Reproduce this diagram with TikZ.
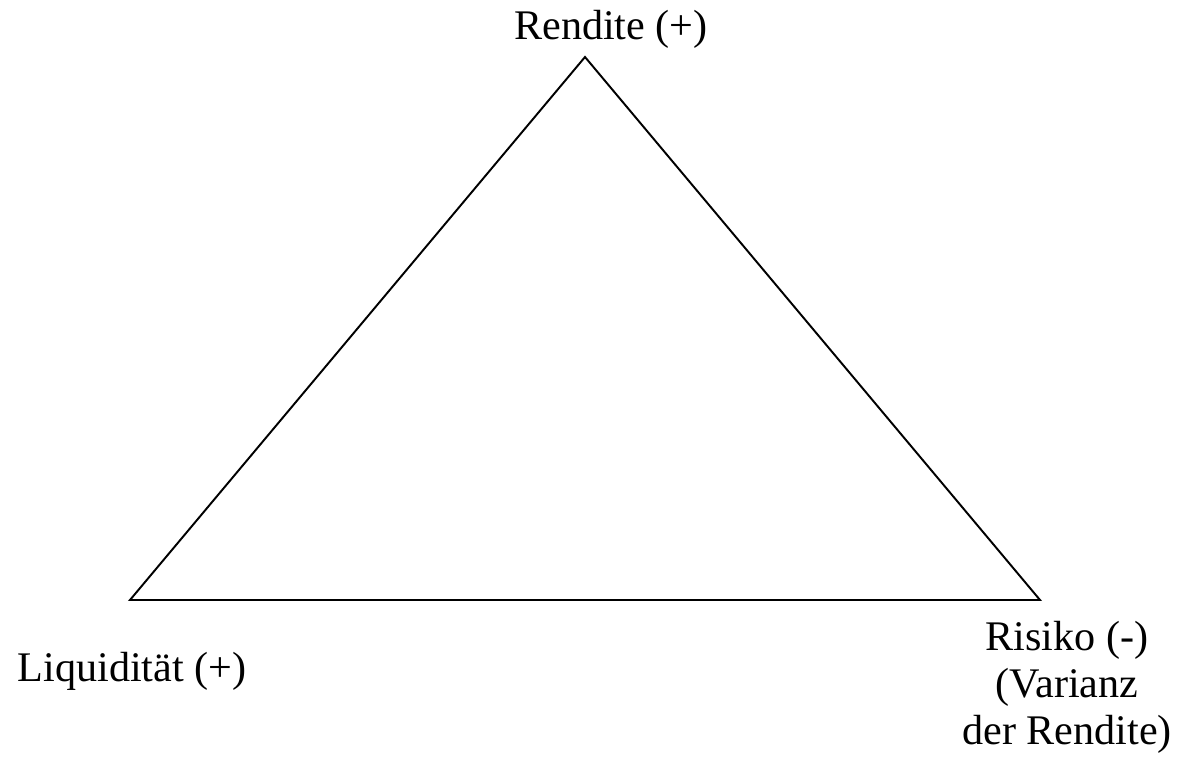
\documentclass[tikz,border=0pt]{standalone}
\usepackage{fontspec}
\setmainfont{Liberation Serif}
\usepackage{tikz}
\usetikzlibrary{positioning}

\begin{document}
\begin{tikzpicture}[x=0.02cm, y=-0.02cm, line join=miter,
    eckpunkt/.style={font=\fontsize{24}{27}\selectfont, inner sep=0pt, anchor=base, align=center}]
    % 1. Rahmen (Bildgröße)
    \useasboundingbox (0,0) rectangle (1177,759);

    % 2. Eckpunkte des Dreiecks
    \coordinate (spitze) at (585,57);
    \coordinate (links) at (130,600);
    \coordinate (rechts) at (1040,600);

    % 3. Dreieck
    \draw[black, line width=1.1pt] (links) -- (spitze) -- (rechts) -- cycle;

    % 4. Beschriftungen der Ecken
    \node[eckpunkt] (rendite) at (611,40) {Rendite (+)};
    \node[eckpunkt] (liquiditaet) at (132,682) {Liquidität (+)};
    \node[eckpunkt] (risiko) at (1067,745) {Risiko (-)\\(Varianz\\der Rendite)};

\end{tikzpicture}
\end{document}
